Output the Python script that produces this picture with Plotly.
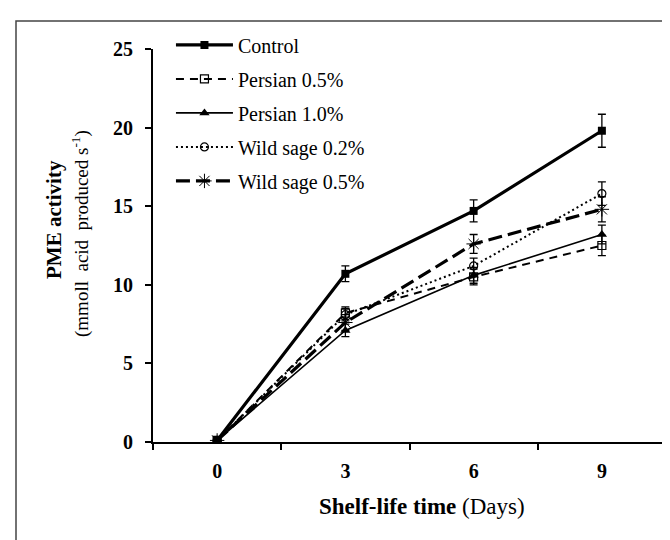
import plotly.graph_objects as go

days = ["0", "3", "6", "9"]
control = [0.1, 10.7, 14.7, 19.8]
control_err = [0.0, 0.5, 0.7, 1.05]
persian05 = [0.1, 8.2, 10.5, 12.5]
persian05_err = [0.0, 0.4, 0.5, 0.65]
persian10 = [0.1, 7.1, 10.6, 13.2]
persian10_err = [0.0, 0.4, 0.5, 0.6]
sage02 = [0.1, 8.1, 11.2, 15.8]
sage02_err = [0.0, 0.4, 0.5, 0.75]
sage05 = [0.1, 7.6, 12.6, 14.8]
sage05_err = [0.0, 0.5, 0.6, 0.8]

FONT = "Liberation Serif"

series = [
    ("Control", control, control_err, dict(width=3.2, dash="solid"),
     dict(symbol="square", size=8, color="black")),
    ("Persian 0.5%", persian05, persian05_err, dict(width=2, dash="8px,6px"),
     dict(symbol="square-open", size=8, color="black", line=dict(width=1.2, color="black"))),
    ("Persian 1.0%", persian10, persian10_err, dict(width=1.6, dash="solid"),
     dict(symbol="triangle-up", size=9, color="black")),
    ("Wild sage 0.2%", sage02, sage02_err, dict(width=2, dash="2px,3px"),
     dict(symbol="circle-open", size=8, color="black", line=dict(width=1.2, color="black"))),
    ("Wild sage 0.5%", sage05, sage05_err, dict(width=3.2, dash="14px,6px"),
     dict(symbol="asterisk-open", size=12, color="black", line=dict(width=1, color="black"))),
]

fig = go.Figure()
for i, (name, vals, err, line, marker) in enumerate(series):
    fig.add_trace(go.Scatter(
        x=days, y=vals, name=name, mode="lines+markers",
        line=dict(color="black", **line), marker=marker,
        legendgroup=f"g{i}",
        error_y=dict(type="data", array=err, visible=True, color="black",
                     thickness=1.3, width=4),
    ))

fig.update_layout(
    width=670, height=540,
    margin=dict(l=145, r=12, t=41, b=106),
    paper_bgcolor="white", plot_bgcolor="white",
    font=dict(family=FONT, color="black", size=15),
    showlegend=True,
    legend=dict(x=0.035, y=1.06, xanchor="left", yanchor="top",
                bgcolor="rgba(0,0,0,0)", font=dict(family=FONT, size=20),
                itemwidth=57, traceorder="grouped", tracegroupgap=5),
    xaxis=dict(type="category", range=[-0.5, 3.5], showline=True, linecolor="black",
               linewidth=2, ticks="outside", tickson="boundaries", ticklen=6,
               tickwidth=2, tickcolor="black", showgrid=False, zeroline=False,
               ticklabelstandoff=10,
               tickfont=dict(family=FONT, size=20, color="black", weight="bold")),
    yaxis=dict(range=[0, 25], dtick=5, showline=True, linecolor="black", linewidth=2,
               ticks="outside", ticklen=6, tickwidth=2, tickcolor="black",
               showgrid=False, zeroline=False, ticklabelstandoff=8,
               tickfont=dict(family=FONT, size=20, color="black", weight="bold")),
)

fig.add_annotation(xref="paper", yref="paper", x=(46 - 145) / 513, y=(434 - 212) / 393,
                   text="<b>PME activity</b>", textangle=-90, showarrow=False,
                   font=dict(family=FONT, size=21), xanchor="center", yanchor="middle")
fig.add_annotation(xref="paper", yref="paper", x=(72 - 145) / 513, y=(434 - 226) / 393,
                   text="(mmoll&nbsp;&nbsp;acid&nbsp;&nbsp;produced s<sup>-1</sup>)", textangle=-90,
                   showarrow=False,
                   font=dict(family=FONT, size=19), xanchor="center", yanchor="middle")
fig.add_annotation(xref="paper", yref="paper", x=(414 - 145) / 513, y=(434 - 498) / 393,
                   text="<b>Shelf-life time</b> (Days)", showarrow=False,
                   font=dict(family=FONT, size=23), xanchor="center", yanchor="middle")

fig.add_shape(type="rect", xref="paper", yref="paper",
              x0=(8 - 145) / 513, x1=(700 - 145) / 513,
              y0=(434 - 560) / 393, y1=(434 - 13) / 393,
              line=dict(color="#444", width=1.5), layer="below")

fig.write_html("out.html")
